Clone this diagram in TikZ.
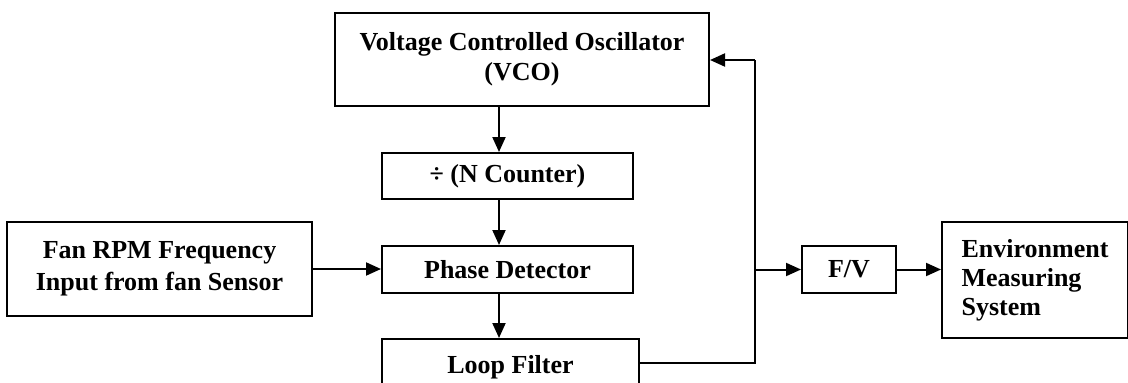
\documentclass[tikz,border=0pt]{standalone}
\usepackage{fontspec}
\setmainfont{Liberation Serif}
\usetikzlibrary{arrows.meta}
\tikzset{
  blk/.style={draw, line width=2pt, rectangle, inner sep=0pt, align=center,
    font=\fontsize{26}{30}\selectfont\bfseries},
  conn/.style={line width=2pt, -{Triangle[length=15pt,width=13pt]}},
  plain/.style={line width=2pt}
}
\begin{document}
\begin{tikzpicture}[x=1pt,y=-1pt]
\useasboundingbox (0,0) rectangle (1128,383);
\node[blk, minimum width=374pt, minimum height=93pt] (vco) at (522,59.5) {Voltage Controlled Oscillator\\(VCO)};
\node[blk, minimum width=251pt, minimum height=46pt] (nc) at (507.5,176) {÷ (N Counter)};
\node[blk, minimum width=251pt, minimum height=47pt] (pd) at (507.5,269.5) {Phase Detector};
\node[blk, minimum width=257pt, minimum height=56pt] (lf) at (510.5,367) {Loop Filter};
\node[blk, minimum width=305pt, minimum height=94pt,
  font=\fontsize{26}{31.5}\selectfont\bfseries] (fan) at (159.5,269) {Fan RPM Frequency\\Input from fan Sensor};
\node[blk, minimum width=94pt, minimum height=47pt] (fv) at (849,269.5) {F/V};
\node[blk, minimum width=186pt, minimum height=116pt, align=left,
  font=\fontsize{26}{29}\selectfont\bfseries] (env) at (1035,280) {Environment\\Measuring\\System};
\coordinate (cx) at (499,0);
\coordinate (jtop) at (755,60);
\coordinate (jmid) at (755,269.5);
\coordinate (jbot) at (755,363);
\draw[conn] (vco.south -| cx) -- (nc.north -| cx);
\draw[conn] (nc.south -| cx) -- (pd.north -| cx);
\draw[conn] (pd.south -| cx) -- (lf.north -| cx);
\draw[conn] (fan.east) -- (fan.east -| pd.west);
\draw[plain] (lf.east |- jbot) -- (jbot) -- (jtop);
\draw[conn] (jtop) -- (jtop -| vco.east);
\draw[conn] (jmid) -- (fv.west);
\draw[conn] (fv.east) -- (env.west |- fv.east);
\end{tikzpicture}
\end{document}
